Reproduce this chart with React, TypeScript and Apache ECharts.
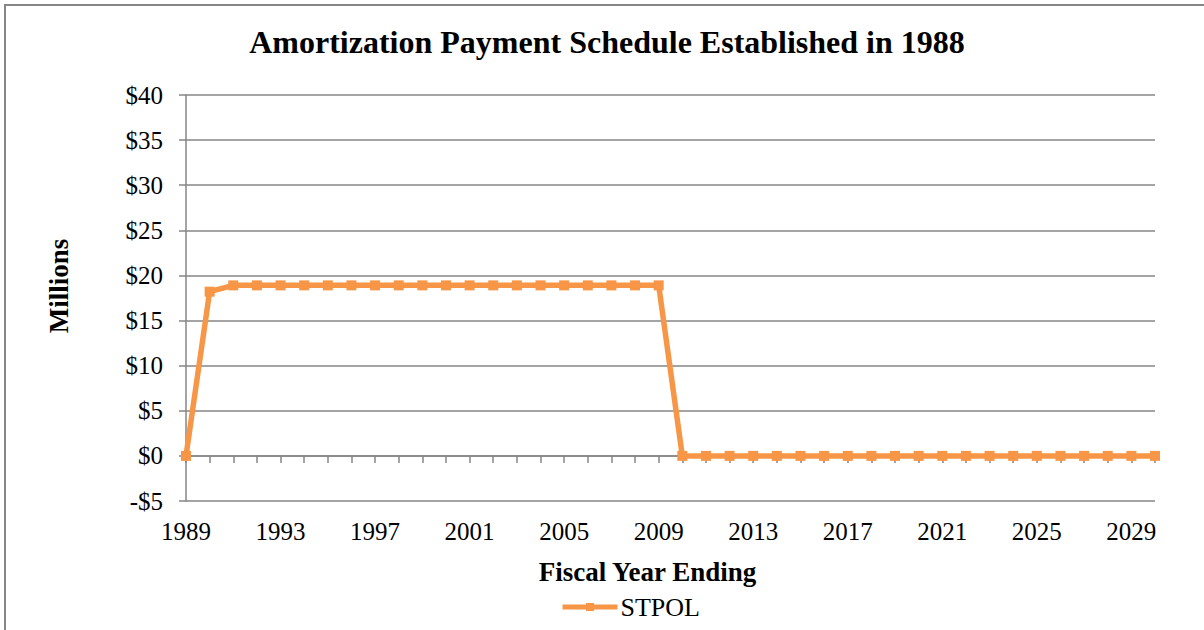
import React, { useEffect, useRef } from "react";
import * as echarts from "echarts";

const years: string[] = [
  "1989", "1990", "1991", "1992", "1993", "1994", "1995", "1996", "1997", "1998",
  "1999", "2000", "2001", "2002", "2003", "2004", "2005", "2006", "2007", "2008",
  "2009", "2010", "2011", "2012", "2013", "2014", "2015", "2016", "2017", "2018",
  "2019", "2020", "2021", "2022", "2023", "2024", "2025", "2026", "2027", "2028",
  "2029", "2030",
];

const stpol: number[] = [
  0, 18.2, 18.9, 18.9, 18.9, 18.9, 18.9, 18.9, 18.9, 18.9,
  18.9, 18.9, 18.9, 18.9, 18.9, 18.9, 18.9, 18.9, 18.9, 18.9,
  18.9, 0, 0, 0, 0, 0, 0, 0, 0, 0,
  0, 0, 0, 0, 0, 0, 0, 0, 0, 0,
  0, 0,
];

const SERIF = "'Liberation Serif', 'Times New Roman', serif";
const GRAY = "#868686";
const ORANGE = "#F79646";

export default function App() {
  const ref = useRef<HTMLDivElement>(null);
  useEffect(() => {
    if (!ref.current) return;
    const chart = echarts.init(ref.current, undefined, { renderer: "svg" });
    chart.setOption({
      animation: false,
      backgroundColor: "#ffffff",
      textStyle: { fontFamily: SERIF },
      title: {
        text: "Amortization Payment Schedule Established in 1988",
        left: 607,
        textAlign: "center",
        top: 26,
        padding: 0,
        textStyle: { fontFamily: SERIF, fontSize: 32, fontWeight: "bold", color: "#000" },
      },
      graphic: [
        {
          type: "rect",
          shape: { x: 5, y: 5, width: 1220, height: 640 },
          style: { fill: "none", stroke: GRAY, lineWidth: 2 },
          silent: true,
        },
      ],
      legend: {
        top: 594,
        left: 560,
        padding: 0,
        itemWidth: 55,
        itemHeight: 10,
        itemGap: 4,
        lineStyle: { width: 5 },
        textStyle: { fontFamily: SERIF, fontSize: 26, color: "#000", padding: [0, 0, 0, -2] },
        data: ["STPOL"],
      },
      grid: { left: 186, right: 49, top: 95, bottom: 129, containLabel: false },
      xAxis: [
        {
          type: "category",
          data: years,
          boundaryGap: false,
          position: "bottom",
          axisLine: { show: false, onZero: false },
          axisTick: { show: false },
          axisLabel: {
            interval: 3,
            margin: 18,
            fontFamily: SERIF,
            fontSize: 25,
            color: "#000",
          },
          name: "Fiscal Year Ending",
          nameLocation: "middle",
          nameGap: 57,
          nameTextStyle: {
            fontFamily: SERIF,
            fontSize: 27,
            fontWeight: "bold",
            color: "#000",
            padding: [0, 46, 0, 0],
          },
        },
        {
          type: "category",
          data: years,
          boundaryGap: false,
          position: "bottom",
          axisLine: { show: true, onZero: true, lineStyle: { color: GRAY, width: 1.5 } },
          axisTick: { show: true, interval: 0, length: 7, lineStyle: { color: GRAY, width: 1.5 } },
          axisLabel: { show: false },
        },
      ],
      yAxis: {
        type: "value",
        min: -5,
        max: 40,
        interval: 5,
        axisLine: { show: true, lineStyle: { color: GRAY, width: 1.5 } },
        axisTick: { show: true, length: 7, lineStyle: { color: GRAY, width: 1.5 } },
        splitLine: { show: true, lineStyle: { color: GRAY, width: 1.5 } },
        axisLabel: {
          margin: 23,
          fontFamily: SERIF,
          fontSize: 25,
          color: "#000",
          formatter: (v: number) => (v < 0 ? "-$" + Math.abs(v) : "$" + v),
        },
        name: "Millions",
        nameLocation: "middle",
        nameGap: 114,
        nameRotate: 90,
        nameTextStyle: {
          fontFamily: SERIF,
          fontSize: 27,
          fontWeight: "bold",
          color: "#000",
          padding: [0, 0, 0, 24],
        },
      },
      series: [
        {
          name: "STPOL",
          type: "line",
          xAxisIndex: 0,
          data: stpol,
          symbol: "rect",
          symbolSize: 10,
          color: ORANGE,
          lineStyle: { color: ORANGE, width: 5.5 },
          itemStyle: { color: ORANGE },
        },
      ],
    });
    return () => chart.dispose();
  }, []);
  return (
    <div
      ref={ref}
      style={{ position: "absolute", left: 0, top: 0, width: 1204, height: 630 }}
    />
  );
}
